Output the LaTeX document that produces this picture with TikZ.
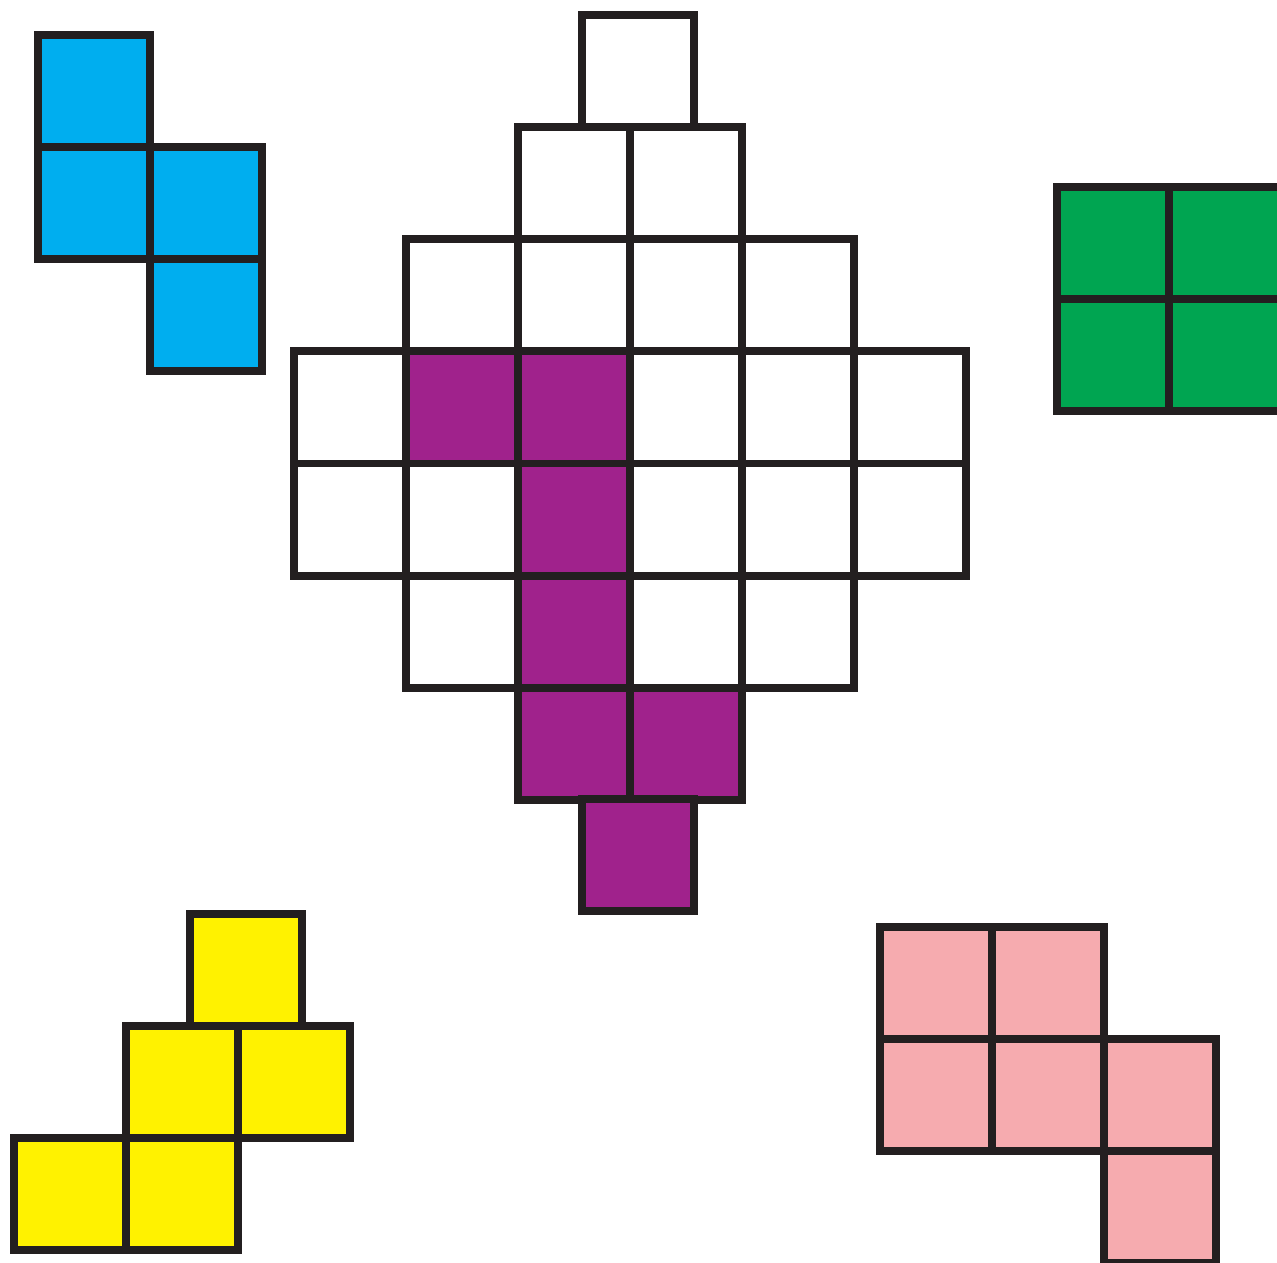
\documentclass[tikz,border=0pt]{standalone}
\definecolor{edge}{HTML}{231F20}
\definecolor{cblue}{HTML}{00AEEF}
\definecolor{cgreen}{HTML}{00A551}
\definecolor{cpurple}{HTML}{A0228C}
\definecolor{cyellow}{HTML}{FFF200}
\definecolor{cpink}{HTML}{F6ABAF}
\begin{document}
\begin{tikzpicture}[x=0.02cm,y=-0.02cm,
  cellbox/.style={draw=edge,line width=0.16cm,line join=miter}]
\newcommand\sq[3]{\filldraw[cellbox,fill=#3] (#1,#2) rectangle ++(112,112);}
\useasboundingbox (0,0) rectangle (1277,1263);
\clip (0,0) rectangle (1277,1263);
% central board (white)
\sq{582}{15.5}{white}
\foreach \x in {518,630} {\sq{\x}{127.5}{white}}
\foreach \x in {406,518,630,742} {\sq{\x}{239.5}{white}}
\foreach \x in {294,406,518,630,742,854} {\sq{\x}{351.5}{white}\sq{\x}{463.5}{white}}
\foreach \x in {406,518,630,742} {\sq{\x}{575.5}{white}}
% purple piece
\sq{406}{351.5}{cpurple}
\sq{518}{351.5}{cpurple}
\sq{518}{463.5}{cpurple}
\sq{518}{575.5}{cpurple}
\sq{518}{687.5}{cpurple}
\sq{630}{687.5}{cpurple}
\sq{582}{799}{cpurple}
% blue piece
\sq{38}{35}{cblue}
\sq{38}{147}{cblue}
\sq{150}{147}{cblue}
\sq{150}{259}{cblue}
% green piece
\sq{1057}{187}{cgreen}
\sq{1169}{187}{cgreen}
\sq{1057}{299}{cgreen}
\sq{1169}{299}{cgreen}
% yellow piece
\sq{190}{914}{cyellow}
\sq{126}{1026}{cyellow}
\sq{238}{1026}{cyellow}
\sq{14}{1138}{cyellow}
\sq{126}{1138}{cyellow}
% pink piece
\sq{880}{927}{cpink}
\sq{992}{927}{cpink}
\sq{880}{1039}{cpink}
\sq{992}{1039}{cpink}
\sq{1104}{1039}{cpink}
\sq{1104}{1151}{cpink}
\end{tikzpicture}
\end{document}
